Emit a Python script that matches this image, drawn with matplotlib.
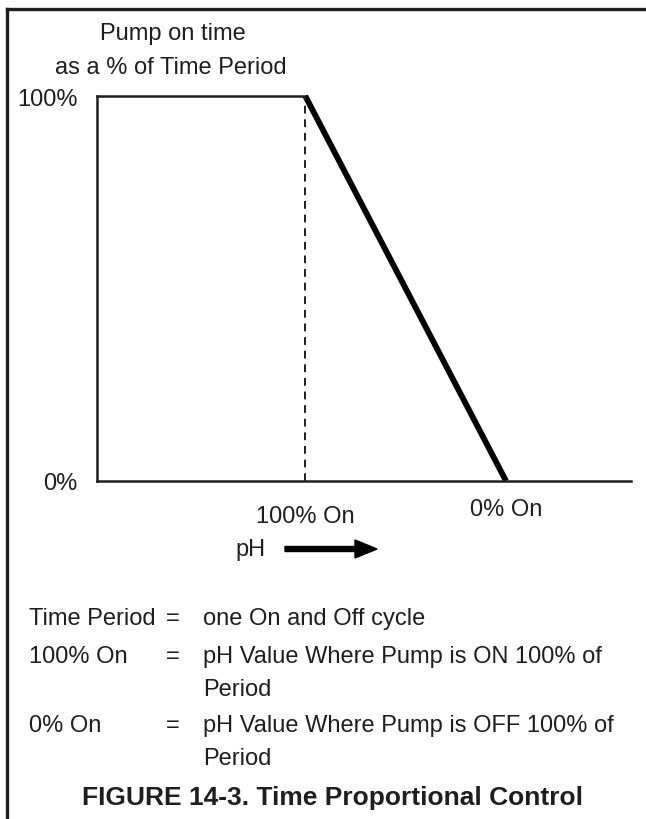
import matplotlib.pyplot as plt
from matplotlib.lines import Line2D
from matplotlib.patches import FancyArrow

plt.rcParams['font.family'] = ['Liberation Sans', 'DejaVu Sans']

# pH axis in arbitrary units, pump on-time in %
ph_full_on = 3.9
ph_full_off = 7.66
ph_max = 10.0
ramp_ph = [ph_full_on, ph_full_off]
ramp_on = [100, 0]
flat_ph = [0, ph_full_on]
flat_on = [100, 100]
y_ticks = [0, 100]
y_tick_labels = ['0%', '100%']
x_ticks = [ph_full_on, ph_full_off]
x_tick_labels = ['100% On', '0% On']

legend_terms = ['Time Period', '100% On', '', '0% On', '']
legend_eq = ['=', '=', '', '=', '']
legend_defs = ['one On and Off cycle',
               'pH Value Where Pump is ON 100% of', 'Period',
               'pH Value Where Pump is OFF 100% of', 'Period']
legend_y = [619, 657, 690, 726, 759]

W, H = 646, 820
fig = plt.figure(figsize=(W / 100, H / 100), dpi=100)
fig.patch.set_facecolor('white')
ink = '#1e1e1e'
fs = 17

def fx(px):
    return px / W

def fy(py):
    return 1 - py / H

# outer frame: top and left edges only
fig.add_artist(Line2D([fx(7), 1], [fy(10), fy(10)], color=ink, lw=2.4))
fig.add_artist(Line2D([fx(7), fx(7)], [fy(10), 0], color=ink, lw=2.4))

ax = fig.add_axes([fx(97), fy(482), fx(631) - fx(97), (482 - 97) / H])
ax.set_xlim(0, ph_max)
ax.set_ylim(0, 100)
ax.plot(flat_ph, flat_on, color=ink, lw=1.8, clip_on=False)
ax.plot(ramp_ph, ramp_on, color='black', lw=4.2, clip_on=False, solid_capstyle='butt')
ax.plot([ph_full_on, ph_full_on], [0, 100], color=ink, lw=1.4,
        ls=(0, (4, 3)), clip_on=False)
for s in ['top', 'right']:
    ax.spines[s].set_visible(False)
for s in ['left', 'bottom']:
    ax.spines[s].set_linewidth(1.8)
    ax.spines[s].set_color(ink)
ax.set_yticks(y_ticks)
ax.set_yticklabels(y_tick_labels, fontsize=fs, color=ink)
ax.set_xticks([])
ax.tick_params(axis='y', length=0, pad=14)
for x, lab, dy in zip(x_ticks, x_tick_labels, [35, 28]):
    ax.annotate(lab, (x, 0), xytext=(0, -dy), textcoords='offset pixels',
                ha='center', va='center', fontsize=fs, color=ink)

fig.text(fx(173), fy(34), 'Pump on time', ha='center', va='center', fontsize=fs, color=ink)
fig.text(fx(171), fy(68), 'as a % of Time Period', ha='center', va='center',
         fontsize=fs, color=ink)

# pH arrow
fig.text(fx(250), fy(550), 'pH', ha='center', va='center', fontsize=fs, color=ink)
fig.add_artist(FancyArrow(
    fx(285), fy(550), fx(377) - fx(285), 0, width=5 / H, head_width=18 / H,
    head_length=22 / W, length_includes_head=True, color='black',
    transform=fig.transFigure))

for term, eq, d, y in zip(legend_terms, legend_eq, legend_defs, legend_y):
    fig.text(fx(29), fy(y), term, ha='left', va='center', fontsize=fs, color=ink)
    fig.text(fx(173), fy(y), eq, ha='center', va='center', fontsize=fs, color=ink)
    fig.text(fx(203), fy(y), d, ha='left', va='center', fontsize=fs, color=ink)

fig.text(fx(333), fy(798), 'FIGURE 14-3. Time Proportional Control', ha='center',
         va='center', fontsize=19, fontweight='bold', color=ink)

fig.savefig('out.png', dpi=100)
